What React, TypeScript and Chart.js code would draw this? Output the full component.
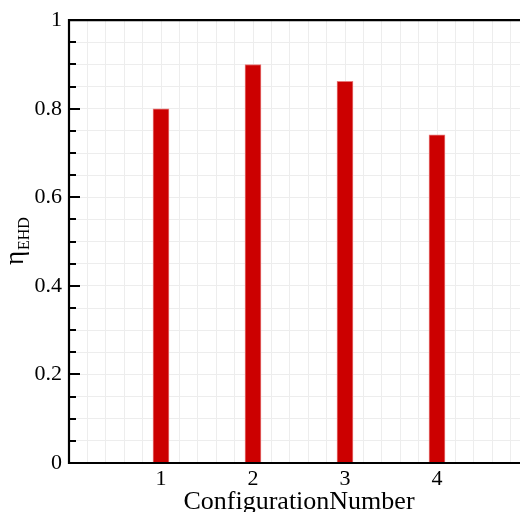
import React, { useEffect, useRef } from "react";
import { Chart, registerables } from "chart.js";

Chart.register(...registerables);

const configurations = [1, 2, 3, 4];
const etaEHD = [0.8, 0.9, 0.862, 0.741];
const yTickLabels = ["0", "0.2", "0.4", "0.6", "0.8", "1"];
const xTickLabels = ["1", "2", "3", "4"];
const xTitle = "ConfigurationNumber";
const yTitleMain = "η";
const yTitleSub = "EHD";

const SERIF = "'Liberation Serif', 'Times New Roman', serif";

const framePlugin = {
  id: "frame",
  afterDraw(chart: any) {
    const { ctx, chartArea, scales } = chart;
    const { left, right, top, bottom } = chartArea;
    ctx.save();
    // inward tick marks on y axis
    ctx.strokeStyle = "#000";
    ctx.lineWidth = 2;
    scales.y.ticks.forEach((t: any) => {
      const v = t.value;
      const py = Math.round(scales.y.getPixelForValue(v));
      const major = Math.abs(v * 5 - Math.round(v * 5)) < 1e-6;
      const len = major ? 11 : 7;
      ctx.beginPath();
      ctx.moveTo(left, py);
      ctx.lineTo(left + len, py);
      ctx.stroke();
    });
    // frame
    ctx.lineWidth = 2.2;
    ctx.beginPath();
    ctx.moveTo(right + 2, top);
    ctx.lineTo(left, top);
    ctx.lineTo(left, bottom);
    ctx.lineTo(right + 2, bottom);
    ctx.stroke();

    // x title
    ctx.fillStyle = "#000";
    ctx.font = `26px ${SERIF}`;
    ctx.textAlign = "center";
    ctx.textBaseline = "alphabetic";
    ctx.fillText(xTitle, (left + right) / 2, 509);

    // y title with subscript
    ctx.translate(23, (top + bottom) / 2);
    ctx.rotate(-Math.PI / 2);
    ctx.font = `27px ${SERIF}`;
    const w1 = ctx.measureText(yTitleMain).width;
    ctx.font = `16px ${SERIF}`;
    const w2 = ctx.measureText(yTitleSub).width;
    const start = -(w1 + w2) / 2;
    ctx.textAlign = "left";
    ctx.font = `27px ${SERIF}`;
    ctx.fillText(yTitleMain, start, 0);
    ctx.font = `16px ${SERIF}`;
    ctx.fillText(yTitleSub, start + w1 + 1, 6);
    ctx.restore();
  },
};

export default function App() {
  const canvasRef = useRef<HTMLCanvasElement | null>(null);

  useEffect(() => {
    if (!canvasRef.current) return;
    const chart = new Chart(canvasRef.current, {
      type: "bar",
      data: {
        datasets: [
          {
            data: configurations.map((c, i) => ({ x: c, y: etaEHD[i] })),
            backgroundColor: "#cc0000",
            borderColor: "#e77a7a",
            borderWidth: 1,
            barThickness: 16,
          },
        ],
      },
      options: {
        animation: false,
        responsive: true,
        maintainAspectRatio: false,
        layout: { padding: { top: 20, right: 11, left: 0, bottom: 0 } },
        plugins: {
          legend: { display: false },
          tooltip: { enabled: false },
        },
        scales: {
          x: {
            type: "linear",
            min: 0,
            max: 5,
            offset: false,
            grid: { offset: false, color: "#ededed", lineWidth: 1, drawTicks: false },
            border: { display: false },
            ticks: {
              stepSize: 0.2,
              autoSkip: false,
              maxRotation: 0,
              padding: 3,
              color: "#000",
              font: { family: SERIF, size: 22 },
              callback: (v: any) => {
                const n = Number(v);
                const r = Math.round(n);
                if (Math.abs(n - r) < 1e-6) {
                  const idx = xTickLabels.indexOf(String(r));
                  return idx >= 0 ? xTickLabels[idx] : "";
                }
                return "";
              },
            },
            afterFit: (s: any) => {
              s.height = 49;
            },
          },
          y: {
            min: 0,
            max: 1,
            grid: { color: "#ededed", lineWidth: 1, drawTicks: false },
            border: { display: false },
            ticks: {
              stepSize: 0.05,
              autoSkip: false,
              padding: 7,
              color: "#000",
              font: { family: SERIF, size: 22 },
              callback: (v: any) => {
                const n = Number(v);
                if (Math.abs(n * 5 - Math.round(n * 5)) < 1e-6) {
                  return yTickLabels[Math.round(n * 5)];
                }
                return "";
              },
            },
            afterFit: (s: any) => {
              s.width = 69;
            },
          },
        },
      },
      plugins: [framePlugin],
    });
    return () => chart.destroy();
  }, []);

  return (
    <div style={{ position: "absolute", left: 0, top: 0, width: 540, height: 512, background: "#fff" }}>
      <canvas ref={canvasRef} />
    </div>
  );
}
